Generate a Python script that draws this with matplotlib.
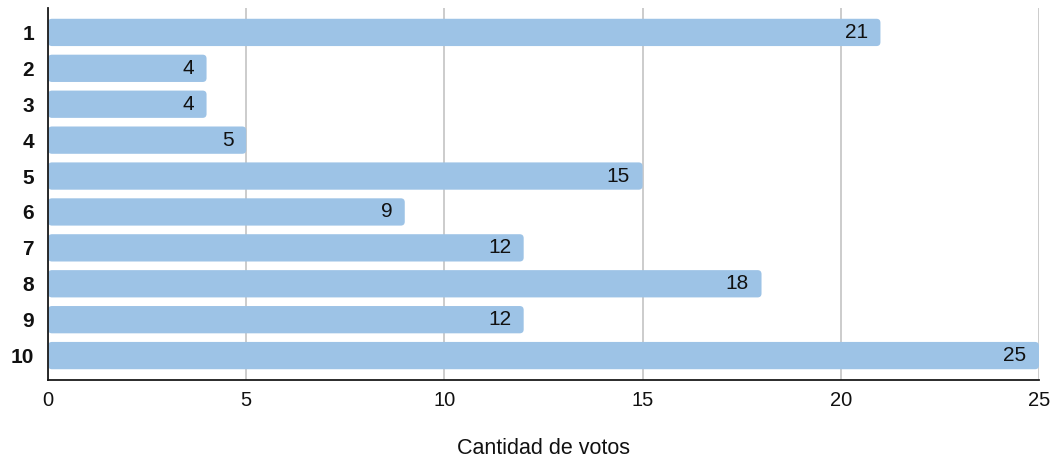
import matplotlib
matplotlib.use("Agg")
import matplotlib.pyplot as plt
from matplotlib.patches import FancyBboxPatch

plt.rcParams['font.family'] = ['Liberation Sans', 'DejaVu Sans']

categories = ["1", "2", "3", "4", "5", "6", "7", "8", "9", "10"]
votes = [21, 4, 4, 5, 15, 9, 12, 18, 12, 25]
xticks = [0, 5, 10, 15, 20, 25]
xlabel = "Cantidad de votos"

W, H = 1058, 457
fig = plt.figure(figsize=(W / 100, H / 100), dpi=100)
ax = fig.add_axes([48 / W, 1 - 380 / H, (1039 - 48) / W, (380 - 8) / H])

ypos = list(range(len(categories)))
bars = ax.barh(ypos, votes, height=0.76, color="#9DC3E6", zorder=2)
ax.set_ylim(len(categories) - 1 + 0.68, -0.68)
ax.set_xlim(0, 25)

# replace bars with rounded ones
for b in bars:
    x0, y0 = b.get_x(), b.get_y()
    w, h = b.get_width(), b.get_height()
    b.set_visible(False)
    p = FancyBboxPatch((x0, y0), w, h,
                       boxstyle="round,pad=0,rounding_size=0.1",
                       mutation_aspect=1.1, facecolor="#9DC3E6",
                       edgecolor="none", zorder=2)
    ax.add_patch(p)

for y, v in zip(ypos, votes):
    ax.annotate(str(v), xy=(v, y), xytext=(-9, 0), textcoords="offset points",
                ha="right", va="center", fontsize=15, color="#111111", zorder=3)

ax.set_yticks(ypos)
ax.set_yticklabels(categories, fontsize=15, fontweight="bold", color="#111111")
ax.set_xticks(xticks)
ax.set_xticklabels([str(t) for t in xticks], fontsize=14.5, color="#111111")
ax.tick_params(axis="both", length=0, pad=8)
ax.tick_params(axis="y", pad=10)
ax.xaxis.grid(True, color="#c8c8c8", linewidth=1.3, zorder=0)
ax.set_axisbelow(True)

for s in ["top", "right"]:
    ax.spines[s].set_visible(False)
for s in ["left", "bottom"]:
    ax.spines[s].set_color("#1a1a1a")
    ax.spines[s].set_linewidth(1.3)

ax.set_xlabel(xlabel, fontsize=15.5, labelpad=20, color="#111111")

fig.savefig("out.png", dpi=100)
